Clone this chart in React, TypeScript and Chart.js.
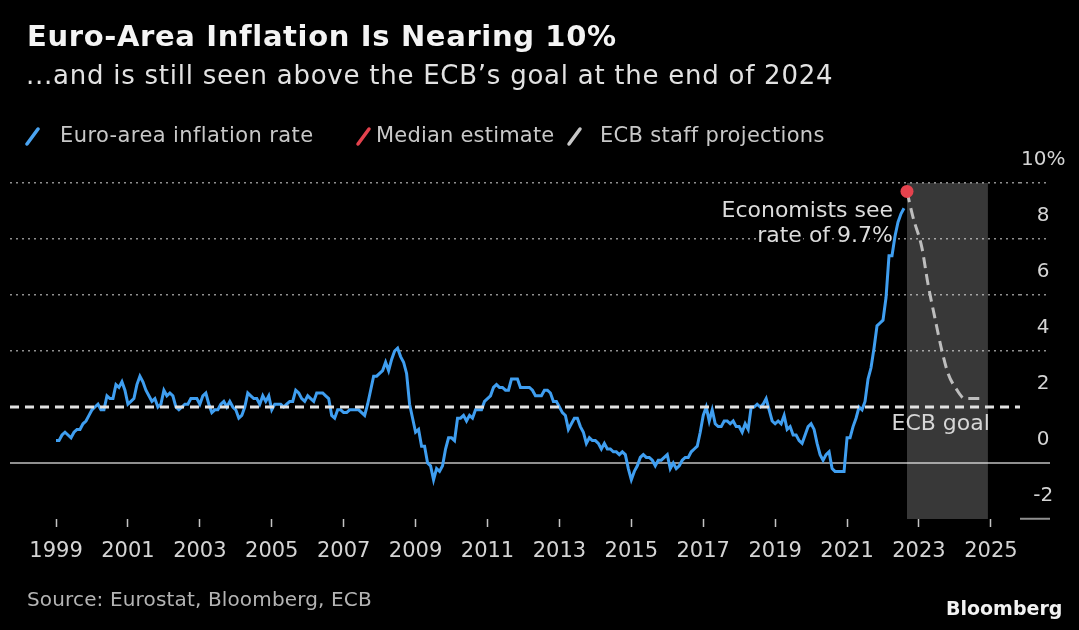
import React, { useEffect, useRef } from "react";
import { Chart, registerables } from "chart.js";

Chart.register(...registerables);

// Monthly euro-area HICP, % y/y, starting January 1999
const startYear = 1999;
const inflationRate = [
  0.8, 0.8, 1.0, 1.1, 1.0, 0.9, 1.1, 1.2, 1.2, 1.4, 1.5, 1.7,
  1.9, 2.0, 2.1, 1.9, 1.9, 2.4, 2.3, 2.3, 2.8, 2.7, 2.9, 2.6,
  2.1, 2.2, 2.3, 2.8, 3.1, 2.9, 2.6, 2.4, 2.2, 2.3, 2.0, 2.1,
  2.6, 2.4, 2.5, 2.4, 2.0, 1.9, 2.0, 2.1, 2.1, 2.3, 2.3, 2.3,
  2.1, 2.4, 2.5, 2.1, 1.8, 1.9, 1.9, 2.1, 2.2, 2.0, 2.2, 2.0,
  1.9, 1.6, 1.7, 2.0, 2.5, 2.4, 2.3, 2.3, 2.1, 2.4, 2.2, 2.4,
  1.9, 2.1, 2.1, 2.1, 2.0, 2.1, 2.2, 2.2, 2.6, 2.5, 2.3, 2.2,
  2.4, 2.3, 2.2, 2.5, 2.5, 2.5, 2.4, 2.3, 1.7, 1.6, 1.9, 1.9,
  1.8, 1.8, 1.9, 1.9, 1.9, 1.9, 1.8, 1.7, 2.1, 2.6, 3.1, 3.1,
  3.2, 3.3, 3.6, 3.3, 3.7, 4.0, 4.1, 3.8, 3.6, 3.2, 2.1, 1.6,
  1.1, 1.2, 0.6, 0.6, 0.0, -0.1, -0.6, -0.2, -0.3, -0.1, 0.5, 0.9,
  0.9, 0.8, 1.6, 1.6, 1.7, 1.5, 1.7, 1.6, 1.9, 1.9, 1.9, 2.2,
  2.3, 2.4, 2.7, 2.8, 2.7, 2.7, 2.6, 2.6, 3.0, 3.0, 3.0, 2.7,
  2.7, 2.7, 2.7, 2.6, 2.4, 2.4, 2.4, 2.6, 2.6, 2.5, 2.2, 2.2,
  2.0, 1.8, 1.7, 1.2, 1.4, 1.6, 1.6, 1.3, 1.1, 0.7, 0.9, 0.8,
  0.8, 0.7, 0.5, 0.7, 0.5, 0.5, 0.4, 0.4, 0.3, 0.4, 0.3, -0.2,
  -0.6, -0.3, -0.1, 0.2, 0.3, 0.2, 0.2, 0.1, -0.1, 0.1, 0.1, 0.2,
  0.3, -0.2, 0.0, -0.2, -0.1, 0.1, 0.2, 0.2, 0.4, 0.5, 0.6, 1.1,
  1.7, 2.0, 1.5, 1.9, 1.4, 1.3, 1.3, 1.5, 1.5, 1.4, 1.5, 1.3,
  1.3, 1.1, 1.4, 1.2, 2.0, 2.0, 2.1, 2.0, 2.1, 2.3, 1.9, 1.5,
  1.4, 1.5, 1.4, 1.7, 1.2, 1.3, 1.0, 1.0, 0.8, 0.7, 1.0, 1.3,
  1.4, 1.2, 0.7, 0.3, 0.1, 0.3, 0.4, -0.2, -0.3, -0.3, -0.3, -0.3,
  0.9, 0.9, 1.3, 1.6, 2.0, 1.9, 2.2, 3.0, 3.4, 4.1, 4.9, 5.0,
  5.1, 5.9, 7.4, 7.4, 8.1, 8.6, 8.9, 9.1,
];

// Median estimate (September 2022)
const medianDates = [2022.667];
const medianValues = [9.7];

// ECB staff projections path
const projectionDates = [2022.667, 2022.83, 2023.08, 2023.25, 2023.44, 2023.64, 2023.81, 2024.06, 2024.28, 2024.83];
const projectionValues = [9.7, 8.8, 7.7, 6.4, 5.2, 4.0, 3.2, 2.6, 2.3, 2.3];

// Projection horizon shading
const projectionPeriod = [2022.667, 2024.917];

const ecbGoal = 2;

const xRange = [1997.72, 2025.81];
const xTickYears = [1999, 2001, 2003, 2005, 2007, 2009, 2011, 2013, 2015, 2017, 2019, 2021, 2023, 2025];
const yRange = [-2, 10];
const yTicks = [-2, 0, 2, 4, 6, 8, 10];

const FONT = "'DejaVu Sans', sans-serif";
const GRID = "#8f8f8f";
const CLEAR = "rgba(0,0,0,0)";

const overlayPlugin = {
  id: "overlay",
  beforeDatasetsDraw(chart: any) {
    const { ctx, scales } = chart;
    const x = scales.x;
    const y = scales.y;
    ctx.save();
    // projection shading
    const x0 = x.getPixelForValue(projectionPeriod[0]);
    const x1 = x.getPixelForValue(projectionPeriod[1]);
    const yTop = y.getPixelForValue(yRange[1]);
    const yBot = y.getPixelForValue(yRange[0]);
    ctx.fillStyle = "rgba(255,255,255,0.22)";
    ctx.fillRect(x0, yTop, x1 - x0, yBot - yTop);

    // annotation near median estimate
    const dx = x.getPixelForValue(medianDates[0]);
    const dy = y.getPixelForValue(medianValues[0]);
    ctx.font = `22px ${FONT}`;
    ctx.textAlign = "right";
    ctx.textBaseline = "alphabetic";
    ctx.lineJoin = "round";
    ctx.strokeStyle = "#000";
    ctx.lineWidth = 6;
    ctx.fillStyle = "#dcdcdc";
    const lines = ["Economists see", "rate of 9.7%"];
    lines.forEach((t, i) => {
      const ty = dy + 26 + i * 25;
      ctx.strokeText(t, dx - 14, ty);
      ctx.fillText(t, dx - 14, ty);
    });

    // ECB goal label
    const gy = y.getPixelForValue(ecbGoal);
    ctx.fillStyle = "#d6d6d6";
    ctx.fillText("ECB goal", x1 + 2, gy + 23);
    ctx.restore();
  },
};

export default function App() {
  const canvasRef = useRef<HTMLCanvasElement>(null);

  useEffect(() => {
    const canvas = canvasRef.current;
    if (!canvas) return;
    const inflationPoints = inflationRate.map((v, i) => ({ x: startYear + i / 12, y: v }));
    const medianPoints = medianValues.map((v, i) => ({ x: medianDates[i], y: v }));
    const projectionPoints = projectionValues.map((v, i) => ({ x: projectionDates[i], y: v }));
    const goalPoints = [
      { x: xRange[0], y: ecbGoal },
      { x: xRange[1], y: ecbGoal },
    ];

    const isTick = (c: any, v: number) => c && c.tick && c.tick.value === v;

    const chart = new Chart(canvas, {
      type: "line",
      data: {
        datasets: [
          {
            label: "ECB goal",
            data: goalPoints,
            borderColor: "#e2e2e2",
            borderWidth: 3,
            borderDash: [9, 6],
            pointRadius: 0,
            order: 1,
          },
          {
            label: "Euro-area inflation rate",
            data: inflationPoints,
            borderColor: "#3f9ef0",
            borderWidth: 3,
            pointRadius: 0,
            tension: 0,
            order: 2,
          },
          {
            label: "ECB staff projections",
            data: projectionPoints,
            borderColor: "#bdbdbd",
            borderWidth: 3,
            borderDash: [11, 6],
            pointRadius: 0,
            cubicInterpolationMode: "monotone",
            order: 3,
          },
          {
            label: "Median estimate",
            data: medianPoints,
            showLine: false,
            pointRadius: 6.5,
            pointBackgroundColor: "#e4424d",
            pointBorderWidth: 0,
            order: 0,
          },
        ],
      },
      options: {
        animation: false,
        responsive: false,
        events: [],
        layout: { padding: { left: 10, top: 183, right: 14, bottom: 51 } },
        plugins: {
          legend: { display: false },
          tooltip: { enabled: false },
          title: { display: false },
        },
        scales: {
          x: {
            type: "linear",
            min: xRange[0],
            max: xRange[1],
            afterBuildTicks: (s: any) => {
              s.ticks = xTickYears.map((v) => ({ value: v }));
            },
            afterFit: (s: any) => {
              s.height = 60;
            },
            grid: {
              drawOnChartArea: false,
              drawTicks: true,
              tickLength: 8,
              color: "#c4c4c4",
              tickColor: "#c4c4c4",
              tickWidth: 1.5,
            },
            border: { display: false },
            ticks: {
              color: "#d4d4d4",
              font: { family: FONT, size: 21 },
              padding: 12,
              maxRotation: 0,
              autoSkip: false,
              callback: (v: any) => String(v),
            },
          },
          y: {
            type: "linear",
            position: "right",
            min: yRange[0],
            max: yRange[1],
            afterBuildTicks: (s: any) => {
              s.ticks = yTicks.map((v) => ({ value: v }));
            },
            afterFit: (s: any) => {
              s.width = 45;
            },
            grid: {
              drawOnChartArea: true,
              drawTicks: true,
              tickLength: 30,
              color: (c: any) => (isTick(c, 2) || isTick(c, -2) ? CLEAR : GRID),
              lineWidth: (c: any) => (isTick(c, 0) ? 2 : 1.5),
              tickColor: (c: any) => (isTick(c, 2) ? CLEAR : GRID),
              tickWidth: (c: any) => (isTick(c, 0) || isTick(c, -2) ? 2 : 1.5),
              tickBorderDash: (c: any) => (isTick(c, 0) || isTick(c, -2) ? [] : [2, 4]),
            },
            border: {
              display: false,
              dash: (c: any) => (isTick(c, 0) ? [] : [2, 4]),
            },
            ticks: {
              color: "#d4d4d4",
              font: { family: FONT, size: 20 },
              padding: -29,
              crossAlign: "center",
              labelOffset: -23,
              callback: (v: any) => (v === 10 ? "10%" : String(v)),
            },
          },
        },
      },
      plugins: [overlayPlugin],
    } as any);

    return () => chart.destroy();
  }, []);

  const text = (
    content: React.ReactNode,
    left: number,
    baseline: number,
    size: number,
    color: string,
    extra: React.CSSProperties = {}
  ) => (
    <div
      style={{
        position: "absolute",
        left,
        top: baseline - 0.846 * size,
        fontFamily: FONT,
        fontSize: size,
        lineHeight: `${size}px`,
        color,
        whiteSpace: "nowrap",
        ...extra,
      }}
    >
      {content}
    </div>
  );

  const icon = (left: number, color: string) => (
    <svg
      style={{ position: "absolute", left, top: 124, overflow: "visible" }}
      width={16}
      height={24}
    >
      <line x1={2} y1={20} x2={13} y2={5} stroke={color} strokeWidth={3.5} strokeLinecap="round" />
    </svg>
  );

  return (
    <div
      style={{
        position: "fixed",
        left: 0,
        top: 0,
        width: 1079,
        height: 630,
        background: "#000",
        overflow: "hidden",
      }}
    >
      <canvas
        ref={canvasRef}
        width={1079}
        height={630}
        style={{ position: "absolute", left: 0, top: 0 }}
      />
      {text("Euro-Area Inflation Is Nearing 10%", 27, 47, 29, "#f4f4f4", { fontWeight: "bold", letterSpacing: 0.65 })}
      {text("...and is still seen above the ECB\u2019s goal at the end of 2024", 26, 84, 26, "#e2e2e2", { letterSpacing: 0.75 })}
      {icon(25, "#4aa3f0")}
      {text("Euro-area inflation rate", 60, 143, 21, "#c8c8c8", { letterSpacing: 0.4 })}
      {icon(356, "#e4424d")}
      {text("Median estimate", 376, 143, 21, "#c8c8c8", { letterSpacing: 0.2 })}
      {icon(567, "#c8c8c8")}
      {text("ECB staff projections", 600, 143, 21, "#c8c8c8", { letterSpacing: 0.3 })}
      {text("Source: Eurostat, Bloomberg, ECB", 27, 606, 20, "#b4b4b4", { letterSpacing: 0.15 })}
      {text("Bloomberg", 946, 615, 19, "#f2f2f2", { fontWeight: "bold" })}
    </div>
  );
}
